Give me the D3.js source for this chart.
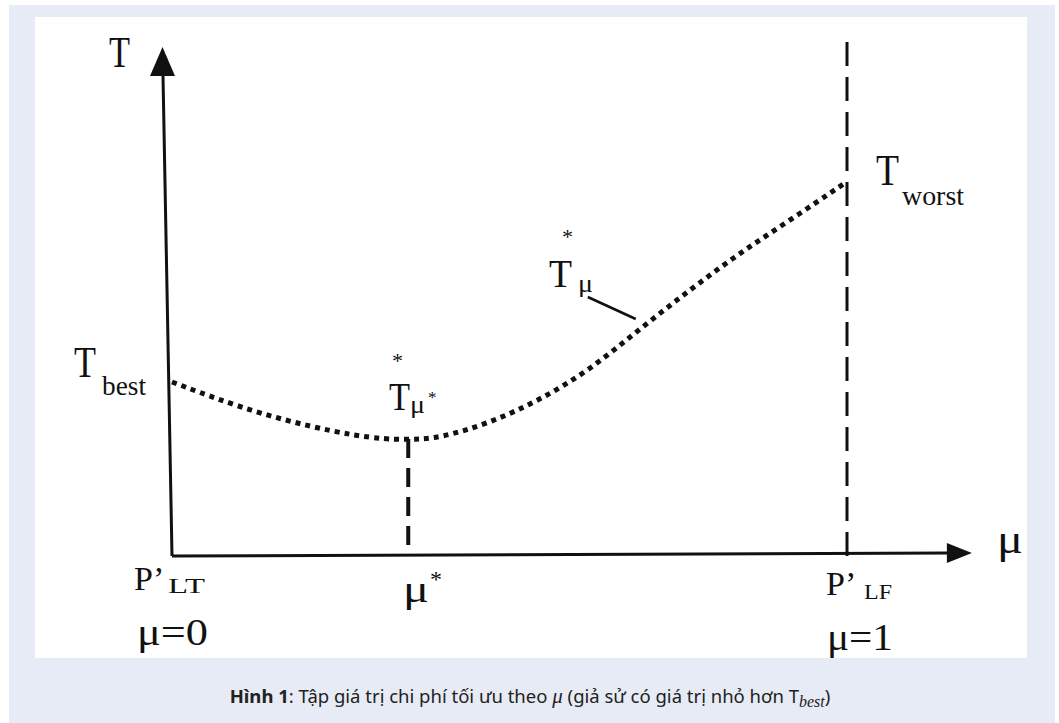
<!DOCTYPE html>
<html>
<head>
<meta charset="utf-8">
<script src="https://cdn.jsdelivr.net/npm/d3@7/dist/d3.min.js"></script>
<style>
  html, body { margin: 0; padding: 0; background: #fff; }
  .serif { font-family: "Liberation Serif", "Times New Roman", serif; fill: #111; }
</style>
</head>
<body>
<svg id="chart" width="1059" height="723"></svg>
<script>
// curve T*(mu) (T in arbitrary units 0..100)
const curveMu = [0, 0.13, 0.279, 0.35, 0.397, 0.471, 0.545, 0.619, 0.693, 0.767, 0.841, 0.916, 0.997];
const curveT  = [34.8, 28.2, 23.6, 23.2, 23.6, 26.6, 31.2, 37.2, 45.4, 53.2, 60.6, 67.2, 74.6];

const muStar = 0.35, tStar = 23.4;    // optimum point
const muWorst = 1;                      // P'LF
const leaderFrom = [0.616, 51.8], leaderTo = [0.687, 47.4];

const svg = d3.select('#chart');

// page background + white figure panel
svg.append('rect').attr('x', 9).attr('y', 5).attr('width', 1046).attr('height', 718).attr('fill', '#e7ebf5');
svg.append('rect').attr('x', 35).attr('y', 17).attr('width', 992).attr('height', 641).attr('fill', '#fff');

let x = d3.scaleLinear().domain([0, 1]).range([172, 847]);
let y = d3.scaleLinear().domain([0, 100]).range([556, 56]);

const g = svg.append('g');

// y axis (slightly leaning, like the scan)
g.append('line')
  .attr('x1', x(0)).attr('y1', y(0))
  .attr('x2', x(0) - 9).attr('y2', y(96))
  .attr('stroke', '#111').attr('stroke-width', 3);
g.append('path')
  .attr('d', d3.line()([[x(0) - 22, y(96)], [x(0) - 9.5, y(101.8)], [x(0) + 3, y(96)]]) + 'Z')
  .attr('fill', '#111');

// x axis
g.append('line')
  .attr('x1', x(0)).attr('y1', y(0))
  .attr('x2', x(1.15)).attr('y2', y(0.6))
  .attr('stroke', '#111').attr('stroke-width', 3);
g.append('path')
  .attr('d', d3.line()([[x(1.148), y(0.6) - 10], [x(1.185), y(0.6)], [x(1.148), y(0.6) + 10]]) + 'Z')
  .attr('fill', '#111');

// dashed vertical at mu = 1
g.append('line')
  .attr('x1', x(muWorst)).attr('y1', y(0))
  .attr('x2', x(muWorst)).attr('y2', y(103.8))
  .attr('stroke', '#111').attr('stroke-width', 3)
  .attr('stroke-dasharray', '24,11');

// dashed vertical at mu*
g.append('line')
  .attr('x1', x(muStar)).attr('y1', y(tStar))
  .attr('x2', x(muStar)).attr('y2', y(1))
  .attr('stroke', '#111').attr('stroke-width', 4)
  .attr('stroke-dasharray', '19,10');

// dotted curve
const pts = curveMu.map((m, i) => [x(m), y(curveT[i])]);
g.append('path')
  .attr('d', d3.line().curve(d3.curveBasis)(pts))
  .attr('fill', 'none').attr('stroke', '#111')
  .attr('stroke-width', 5).attr('stroke-dasharray', '5,5');

// leader line to the curve label
g.append('line')
  .attr('x1', x(leaderFrom[0])).attr('y1', y(leaderFrom[1]))
  .attr('x2', x(leaderTo[0])).attr('y2', y(leaderTo[1]))
  .attr('stroke', '#111').attr('stroke-width', 2.5);

// labels (serif, as in the original drawing)
function label(t, px, py, size, len) {
  let el = svg.append('text').attr('class', 'serif')
    .attr('x', px).attr('y', py)
    .style('font-size', size + 'px')
    .text(t);
  if (len) el.attr('textLength', len).attr('lengthAdjust', 'spacingAndGlyphs');
  return el;
}

label('T', 109, 67, 44, 21);

label('T', 74, 377, 44, 22);
label('best', 102, 395, 27, 44);

label('T', 389, 410, 40, 21);
label('*', 392, 368, 22);
label('μ', 410, 413, 26, 15);
label('*', 428, 403, 17);

label('T', 549, 287, 40, 23);
label('*', 562, 244, 22);
label('μ', 578, 292, 26, 15);

label('T', 876, 185, 44, 23);
label('worst', 902, 205, 27, 62);

label('P’', 134, 590, 34);
label('LT', 168, 593, 20, 37);
label('μ=0', 137, 645, 37, 71);

label('μ', 403, 602, 38, 26);
label('*', 430, 587, 24);

label('P’', 826, 595, 34);
label('LF', 864, 599, 22, 28);
label('μ=1', 827, 650, 37, 66);

label('μ', 997, 553, 40, 26);

// caption
const cap = svg.append('text')
  .attr('x', 530).attr('y', 703)
  .attr('text-anchor', 'middle')
  .style('font-family', '"Noto Sans", "Open Sans", sans-serif')
  .style('font-size', '18.5px')
  .style('fill', '#222');
cap.append('tspan').style('font-weight', 'bold').text('Hình 1');
cap.append('tspan').text(': Tập giá trị chi phí tối ưu theo ');
cap.append('tspan').style('font-family', '"Liberation Serif", serif').style('font-style', 'italic').style('font-size', '21px').text('μ');
cap.append('tspan').text(' (giả sử có giá trị nhỏ hơn T');
cap.append('tspan').attr('dy', 4).style('font-family', '"Liberation Serif", serif').style('font-style', 'italic').style('font-size', '16px').text('best');
cap.append('tspan').attr('dy', -4).text(')');
</script>
</body>
</html>
